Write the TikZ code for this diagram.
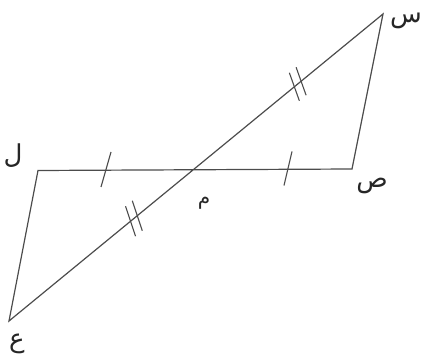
\documentclass[tikz,border=0pt]{standalone}
\usepackage{fontspec}
\newfontfamily\arabicfont[Script=Arabic]{DejaVu Sans}
\TeXXeTstate=1
\usetikzlibrary{calc}
\begin{document}
\begin{tikzpicture}[x=1pt,y=-1pt,
  edge/.style={draw=black!70,line width=1.2pt,line join=miter},
  tick/.style={draw=black!70,line width=1.1pt},
  lbl/.style={inner sep=0pt,font=\arabicfont\fontsize{26}{30}\selectfont,text=black!85}]
\useasboundingbox (0,0) rectangle (424,361);
\coordinate (S) at (383,14);
\coordinate (P) at (352,169);
\coordinate (L) at (38,170.5);
\coordinate (E) at (9,321);
\draw[edge] (S) -- (P) -- (L) -- (E) -- cycle;
% single ticks on LP
\coordinate (t1) at (106,170);
\coordinate (t2) at (288,169.5);
\draw[tick] ($(t1)+(5,-18)$) -- ($(t1)+(-5,17)$);
\draw[tick] ($(t2)+(4,-18)$) -- ($(t2)+(-4,16)$);
% double ticks on ES
\coordinate (d1) at ($(E)!0.763!(S)$);
\coordinate (d2) at ($(E)!0.781!(S)$);
\coordinate (d3) at ($(E)!0.325!(S)$);
\coordinate (d4) at ($(E)!0.343!(S)$);
\draw[tick] ($(d1)+(-5,-14)$) -- ($(d1)+(5,14)$);
\draw[tick] ($(d2)+(-5,-14)$) -- ($(d2)+(5,14)$);
\draw[tick] ($(d3)+(-5,-15)$) -- ($(d3)+(5,15)$);
\draw[tick] ($(d4)+(-5,-15)$) -- ($(d4)+(5,15)$);
% labels
\node[lbl] (lS) at (406,21) {\beginR س\endR};
\node[lbl] (lP) at (372,186) {\beginR ص\endR};
\node[lbl] (lL) at (13,156) {\beginR ل\endR};
\node[lbl] (lE) at (17,344) {\beginR ع\endR};
\node[lbl,font=\arabicfont\fontsize{20}{24}\selectfont] (lM) at (204,203) {\beginR م\endR};
\end{tikzpicture}
\end{document}
